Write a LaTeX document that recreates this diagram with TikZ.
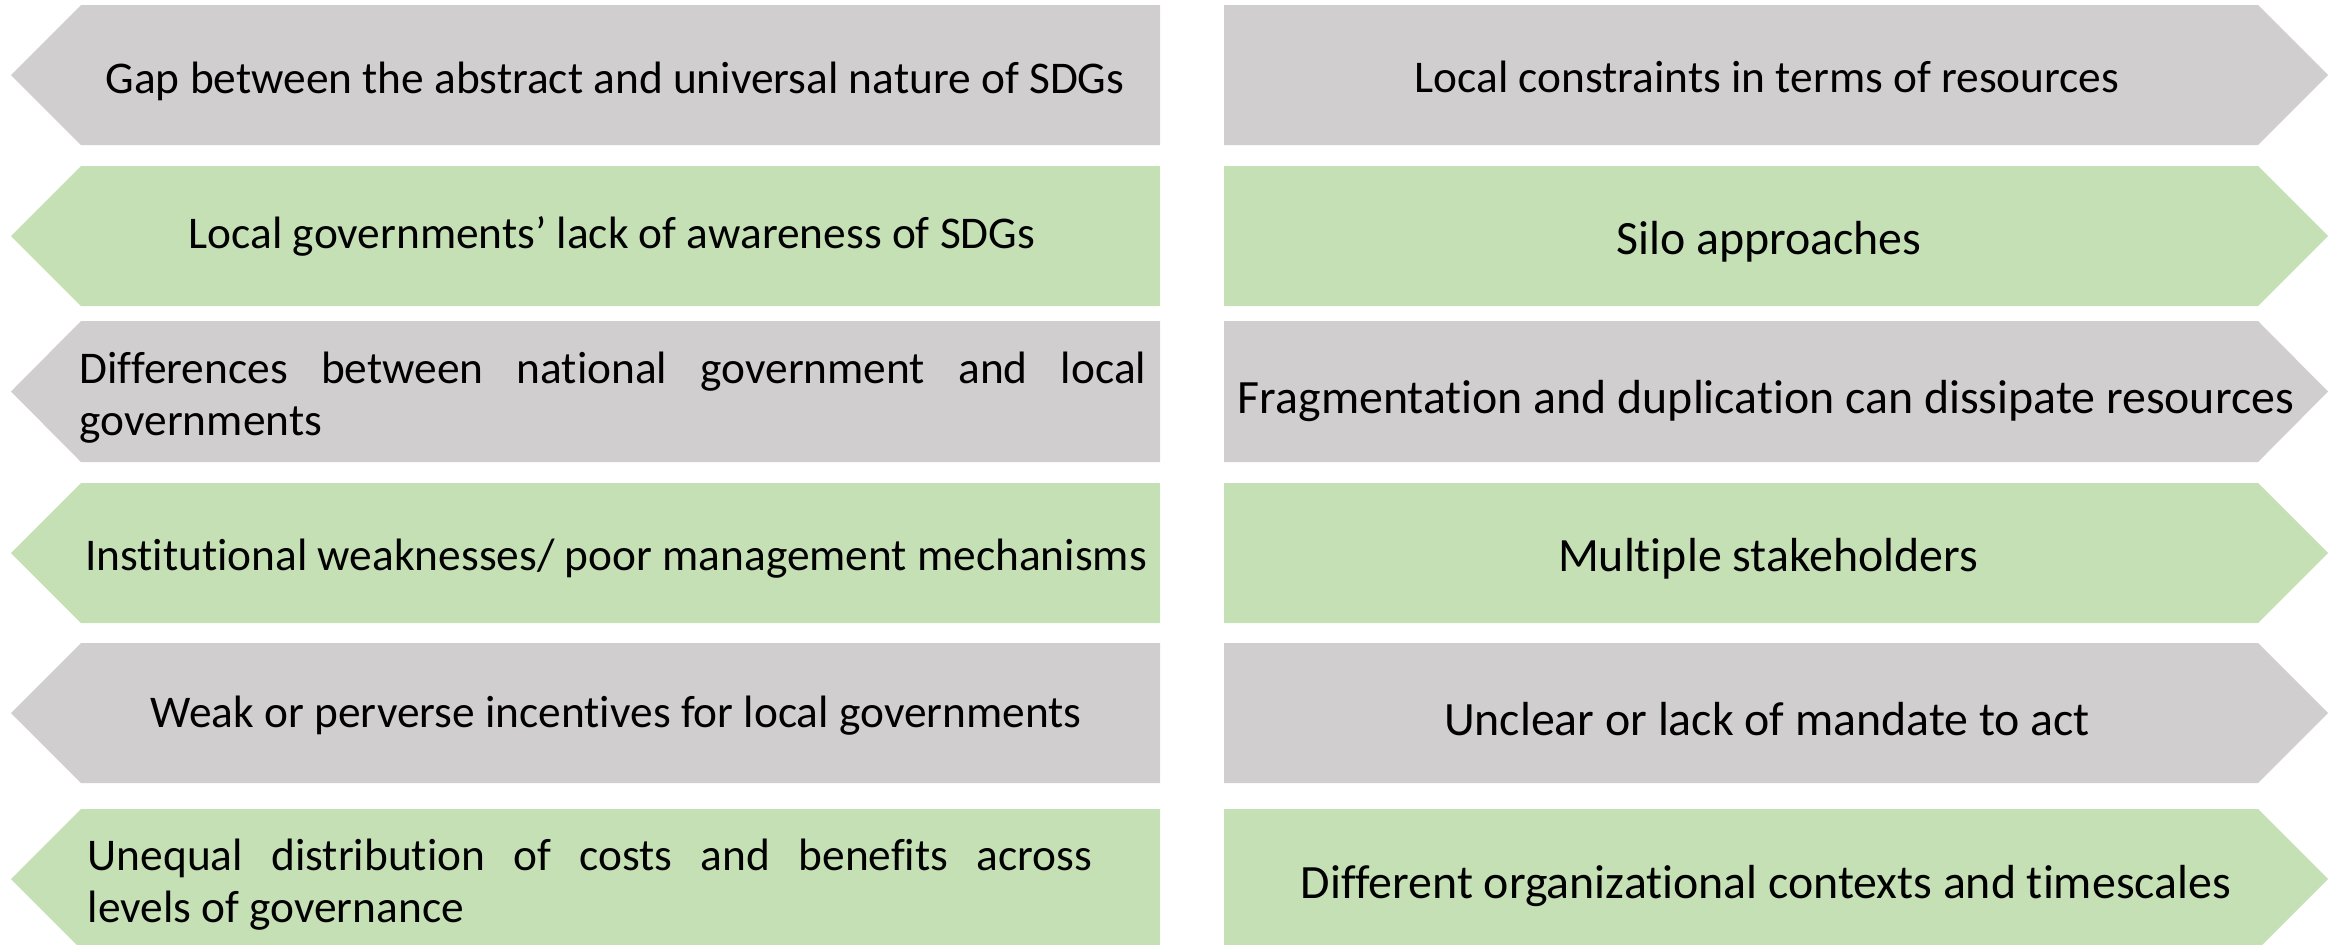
\documentclass[tikz,border=0pt]{standalone}
\usepackage{fontspec}
\setmainfont{Carlito}[Ligatures=NoCommon]
\definecolor{bargrey}{HTML}{D0CECE}
\definecolor{bargreen}{HTML}{C5E0B4}

\tikzset{
  greybar/.style={fill=bargrey},
  greenbar/.style={fill=bargreen},
  lbl/.style={inner sep=0pt, anchor=base, font=\fontsize{12.9}{14.8}\selectfont},
  biglbl/.style={lbl, font=\fontsize{13.6}{15.6}\selectfont},
  parlbl/.style={lbl, anchor=base west, align=justify, text width=#1},
}

\begin{document}
\begin{tikzpicture}[x=0.01cm,y=-0.01cm]
\useasboundingbox (0,0) rectangle (2343,944);

% left column, pointing west
\fill[greybar]  (1160,5)   -- (81,5)   -- (11,75)    -- (81,145) -- (1160,145) -- cycle;
\fill[greenbar] (1160,166) -- (81,166) -- (11,236)   -- (81,306) -- (1160,306) -- cycle;
\fill[greybar]  (1160,321) -- (81,321) -- (11,391.5) -- (81,462) -- (1160,462) -- cycle;
\fill[greenbar] (1160,483) -- (81,483) -- (11,553)   -- (81,623) -- (1160,623) -- cycle;
\fill[greybar]  (1160,643) -- (81,643) -- (11,713)   -- (81,783) -- (1160,783) -- cycle;
\fill[greenbar] (1160,809) -- (81,809) -- (11,879)   -- (81,949) -- (1160,949) -- cycle;

% right column, pointing east
\fill[greybar]  (1224,5)   -- (2258,5)   -- (2328,75)    -- (2258,145) -- (1224,145) -- cycle;
\fill[greenbar] (1224,166) -- (2258,166) -- (2328,236)   -- (2258,306) -- (1224,306) -- cycle;
\fill[greybar]  (1224,321) -- (2258,321) -- (2328,391.5) -- (2258,462) -- (1224,462) -- cycle;
\fill[greenbar] (1224,483) -- (2258,483) -- (2328,553)   -- (2258,623) -- (1224,623) -- cycle;
\fill[greybar]  (1224,643) -- (2258,643) -- (2328,713)   -- (2258,783) -- (1224,783) -- cycle;
\fill[greenbar] (1224,809) -- (2258,809) -- (2328,879)   -- (2258,949) -- (1224,949) -- cycle;

% left texts
\node[lbl] (gap) at (615,93) {Gap between the abstract and universal nature of SDGs};
\node[lbl] (aware) at (612,248) {Local governments’ lack of awareness of SDGs};
\node[parlbl=10.66cm] (diff) at (79,383) {Differences between national government and local\linebreak governments};
\node[lbl] (inst) at (616,570) {Institutional weaknesses/ poor management mechanisms};
\node[lbl] (incent) at (616,727) {Weak or perverse incentives for local governments};
\node[parlbl=10.04cm] (unequal) at (87,870) {Unequal distribution of costs and benefits across\linebreak levels of governance};

% right texts
\node[lbl] (constr) at (1767,92) {Local constraints in terms of resources};
\node[biglbl] (silo) at (1769,254) {Silo approaches};
\node[biglbl] (frag) at (1766,413) {Fragmentation and duplication can dissipate resources};
\node[biglbl] (stake) at (1768,571) {Multiple stakeholders};
\node[biglbl] (mandate) at (1767,735) {Unclear or lack of mandate to act};
\node[biglbl] (context) at (1766,898) {Different organizational contexts and timescales};
\end{tikzpicture}
\end{document}
